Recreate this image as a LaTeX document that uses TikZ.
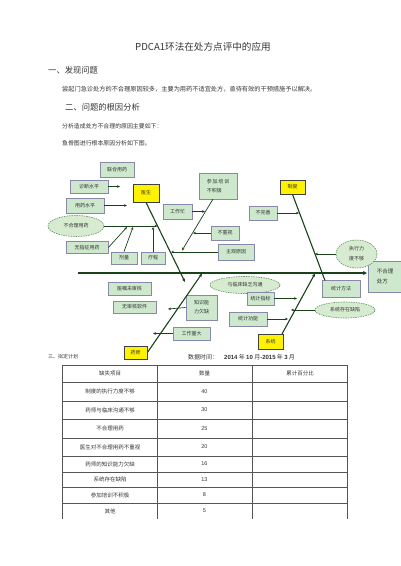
\documentclass[tikz,border=0pt]{standalone}
\usepackage{fontspec}
\setmainfont{Noto Sans CJK SC}
\newfontfamily\arialf{Liberation Sans}
\usetikzlibrary{arrows.meta,shapes.geometric}
\definecolor{bone}{HTML}{1A421A}
\definecolor{boxfill}{HTML}{CDE8CD}
\definecolor{boxline}{HTML}{8888A8}
\definecolor{ellfill}{HTML}{D6EBCF}
\definecolor{ellline}{HTML}{5E8E5E}
\definecolor{txt}{HTML}{333333}
\definecolor{grid}{HTML}{555555}
\begin{document}
\begin{tikzpicture}[x=1pt,y=-1pt,
  gbox/.style={draw=boxline,fill=boxfill,line width=0.8pt,inner sep=0pt,font=\fontsize{5}{7}\selectfont,text=txt},
  ybox/.style={draw=black!75,fill=yellow,line width=0.8pt,inner sep=0pt,font=\fontsize{5}{6}\selectfont,text=txt},
  gell/.style={ellipse,draw=ellline,fill=ellfill,dash pattern=on 1.5pt off 1pt,line width=0.6pt,inner sep=0pt,font=\fontsize{5}{7}\selectfont,text=txt},
  bonel/.style={draw=bone,line width=1.1pt},
  bonea/.style={draw=bone,line width=1.1pt,-{Stealth[length=3.5pt,width=3pt]}},
  subarr/.style={draw=bone,line width=0.7pt,-{Stealth[length=3pt,width=2.6pt]}},
  subl/.style={draw=bone,line width=0.7pt},
  body/.style={text=txt,inner sep=0pt,anchor=west},
  cell/.style={text=txt,inner sep=0pt,font=\fontsize{5.5}{6}\selectfont},
  num/.style={text=txt,inner sep=0pt,font=\arialf\fontsize{5.5}{6}\selectfont}
]
\useasboundingbox (0,0) rectangle (400,566);

% ---------- heading texts ----------
\node[text=txt,inner sep=0pt,font=\fontsize{9.6}{11}\selectfont] (title) at (203,47) {PDCA1环法在处方点评中的应用};
\node[body,font=\fontsize{8.3}{10}\selectfont] (h1) at (48,70) {一、发现问题};
\node[body,font=\fontsize{6.2}{7}\selectfont] (p1) at (62,89) {尝起门急诊处方的不合理原因较多，主要为用药不适宜处方，亟待有效的干预措施予以解决。};
\node[body,font=\fontsize{8.3}{10}\selectfont] (h2) at (65,107) {二、问题的根因分析};
\node[body,font=\fontsize{5.9}{7}\selectfont] (p2) at (62,126) {分析造成处方不合理的原因主要如下：};
\node[body,font=\fontsize{5.9}{7}\selectfont] (p3) at (62,143) {鱼骨图进行根本原因分析如下图。};

% ---------- fishbone: spine ----------
\coordinate (spS) at (78,273);
\node[gbox,minimum width=34,minimum height=31,align=left,font=\fontsize{5.5}{10}\selectfont] (res) at (385,276.5) {不合理\\处方};
\coordinate (spE) at (367,273);
\draw[draw=bone,line width=1.7pt,-{Stealth[length=4pt,width=4pt]}] (spS) -- (spE);

% ---------- doctor ----------
\node[gbox,minimum width=34,minimum height=15] (lhyy) at (117,169.5) {联合用药};
\node[gbox,minimum width=38,minimum height=13] (zdsp) at (89,186.5) {诊断水平};
\node[gbox,minimum width=38,minimum height=15] (yysp) at (85,205.5) {用药水平};
\node[gell,minimum width=56,minimum height=21] (bhlyy) at (76,226) {不合理用药};
\node[gbox,minimum width=42,minimum height=12] (wzz) at (87,247.5) {无指征用药};
\node[gbox,minimum width=26,minimum height=12] (jl) at (124,258) {剂量};
\node[gbox,minimum width=24,minimum height=12] (lc) at (153,258) {疗程};
\node[ybox,minimum width=26,minimum height=18] (ys) at (146,193) {医生};
\node[gbox,minimum width=38,minimum height=26,align=left,font=\fontsize{5}{9}\selectfont] (cjpx) at (218,186) {参\,加\,培\,训\\不积极};
\node[gbox,minimum width=29,minimum height=15] (gzm) at (177.5,211.5) {工作忙};
\node[gbox,minimum width=28,minimum height=14] (bzs) at (225,233) {不重视};
\node[gbox,minimum width=36,minimum height=16] (zgyy) at (236,252) {主观原因};

\coordinate (ysEnd) at (185,282);
\draw[bonea] (ys.south) -- (ysEnd);
\coordinate (a1) at (120,186.5);
\draw[subarr] (zdsp.east) -- (a1);
\coordinate (a2) at (127,205.5);
\draw[subarr] (yysp.east) -- (a2);
\coordinate (a3) at (157.5,226);
\draw[subarr] (bhlyy.east) -- (a3);
\coordinate (a4) at (127,227);
\draw[subarr] (wzz.east) -- (a4);
\coordinate (a5) at (133,227);
\draw[subarr] (jl.north) -- (a5);
\coordinate (a6) at (153,227);
\draw[subarr] (lc.north) -- (a6);
\coordinate (cjS) at (213,199);
\coordinate (cjE) at (182,250.5);
\draw[subarr] (cjS) -- (cjE);
\coordinate (a7) at (205,211.5);
\draw[subarr] (gzm.east) -- (a7);
\coordinate (a8) at (193,233);
\draw[subarr] (bzs.west) -- (a8);
\coordinate (a9) at (171,252);
\draw[subarr] (zgyy.west) -- (a9);

% ---------- system (制度) ----------
\node[ybox,minimum width=25,minimum height=14] (zd) at (292.5,187) {制度};
\node[gbox,minimum width=28,minimum height=14] (bws) at (263,213) {不完善};
\node[gell,minimum width=41,minimum height=28,align=center,font=\fontsize{5}{10}\selectfont] (zxl) at (356.5,254) {执行力\\度不够};
\node[gbox,minimum width=38,minimum height=17] (tjff) at (341,289) {统计方法};
\coordinate (zdEnd) at (325,280.5);
\draw[bonel] (zd.south) -- (zdEnd);
\coordinate (b1) at (299,213);
\draw[subarr] (bws.east) -- (b1);
\coordinate (b2) at (315,254);
\draw[subarr] (zxl.west) -- (b2);

% ---------- 系统 ----------
\node[gell,minimum width=70,minimum height=17] (ylc) at (245,285) {与临床缺乏沟通};
\node[gbox,minimum width=27,minimum height=13] (tjzb) at (260.5,298.5) {统计指标};
\node[gell,minimum width=60,minimum height=16] (xtcz) at (345,310) {系统存在缺陷};
\node[gbox,minimum width=38,minimum height=14] (tjgn) at (248,319) {统计功能};
\node[ybox,minimum width=25,minimum height=15] (xt) at (270.5,341.5) {系统};
\coordinate (xtS) at (282,334);
\coordinate (xtEnd) at (315,273.5);
\draw[bonea] (xtS) -- (xtEnd);
\coordinate (c1) at (297,298.5);
\draw[subarr] (tjzb.east) -- (c1);
\coordinate (c2) at (291,310);
\draw[subarr] (xtcz.west) -- (c2);
\coordinate (c3) at (288,319);
\draw[subarr] (tjgn.east) -- (c3);

% ---------- 药师 ----------
\node[gbox,minimum width=43,minimum height=13] (yzws) at (129.5,288.5) {医嘱未审核};
\node[gbox,minimum width=43,minimum height=12] (wshrj) at (134.5,307) {无审核软件};
\node[gbox,minimum width=31,minimum height=25,align=left,font=\fontsize{5}{9}\selectfont] (zsnl) at (201.5,307.5) {知识能\\力欠缺};
\node[gbox,minimum width=37,minimum height=13] (gzld) at (191.5,333.5) {工作量大};
\node[ybox,minimum width=23,minimum height=13] (yaoshi) at (135.5,352.5) {药师};
\coordinate (ysB) at (202,273.5);
\draw[bonea] (yaoshi.east) -- (ysB);
\coordinate (d1) at (168,309);
\draw[subarr] (zsnl.west) -- (d1);
\coordinate (d2) at (153,333.5);
\draw[subarr] (gzld.west) -- (d2);

% ---------- plan & table ----------
\node[body,font=\fontsize{5}{6}\selectfont] (h3) at (48,357) {三、拟定计划};
\node[body,font=\fontsize{6}{7}\selectfont] (dt) at (188,357) {数据时间：\hspace{6pt}{\arialf\bfseries 2014} 年 {\arialf\bfseries 10} 月{\arialf\bfseries -2015} 年 {\arialf\bfseries 3} 月};

\draw[grid,line width=0.6pt] (62,365) -- (347,365);
\foreach \yy in {382,401,419,438,456,472,487,503}
  \draw[grid,line width=0.6pt] (62,\yy) -- (347,\yy);
\foreach \xx in {62,157,252,347}
  \draw[grid,line width=0.7pt] (\xx,365) -- (\xx,519);

\node[cell] (th1) at (110,373.5) {缺失项目};
\node[cell] (th2) at (204.5,373.5) {数量};
\node[cell] (th3) at (300,373.5) {累计百分比};

\node[cell] (r1) at (110,391.5) {制度的执行力度不够};
\node[cell] (r2) at (110,410) {药师与临床沟通不够};
\node[cell] (r3) at (110,428.5) {不合理用药};
\node[cell] (r4) at (110,447) {医生对不合理用药不重视};
\node[cell] (r5) at (110,464) {药师的知识能力欠缺};
\node[cell] (r6) at (110,479.5) {系统存在缺陷};
\node[cell] (r7) at (110,495) {参加培训不积极};
\node[cell] (r8) at (110,511) {其他};

\node[num] (n1) at (204.5,391.5) {40};
\node[num] (n2) at (204.5,410) {30};
\node[num] (n3) at (204.5,428.5) {25};
\node[num] (n4) at (204.5,447) {20};
\node[num] (n5) at (204.5,464) {16};
\node[num] (n6) at (204.5,479.5) {13};
\node[num] (n7) at (204.5,495) {8};
\node[num] (n8) at (204.5,511) {5};
\end{tikzpicture}
\end{document}
